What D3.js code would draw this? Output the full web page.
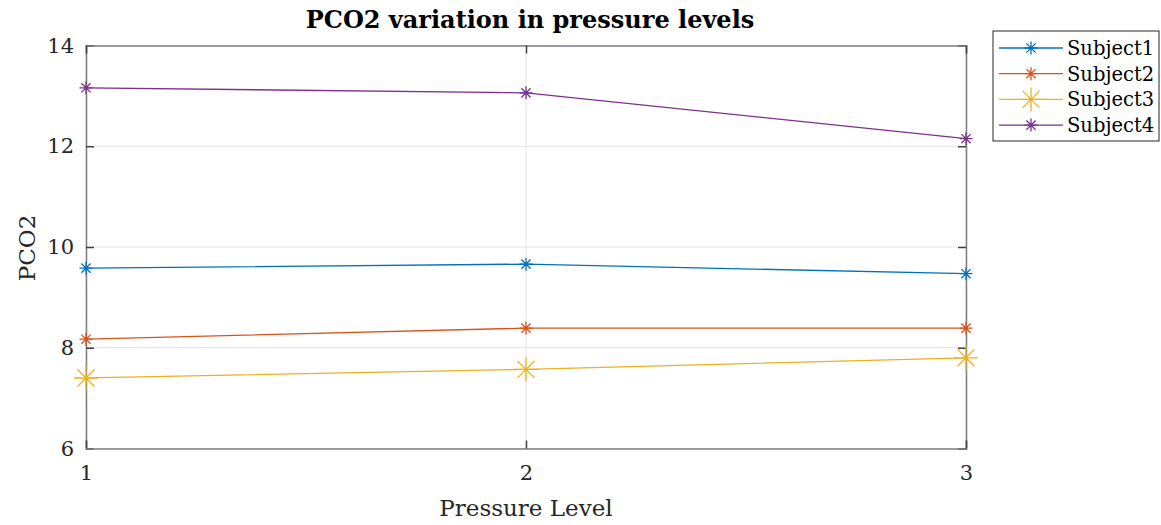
<!DOCTYPE html>
<html><head><meta charset="utf-8">
<script src="https://cdn.jsdelivr.net/npm/d3@7"></script>
<style>body{margin:0;background:#fff;} text{font-family:"DejaVu Serif",serif;}</style>
</head><body>
<svg id="chart" width="1161" height="525"></svg>
<script>
const levels = [1, 2, 3];
const subject1 = [9.58, 9.66, 9.47];
const subject2 = [8.17, 8.39, 8.39];
const subject3 = [7.40, 7.57, 7.80];
const subject4 = [13.16, 13.06, 12.15];
const seriesNames = ["Subject1", "Subject2", "Subject3", "Subject4"];
const seriesColors = ["#0072BD", "#D95319", "#EDB120", "#7E2F8E"];
const markerSizes = [6.5, 6.5, 12, 6.5];
const yTicks = [6, 8, 10, 12, 14];
const xTicks = [1, 2, 3];

const svg = d3.select("#chart");
const m = {l: 86, r: 966, t: 45.5, b: 448.5};
const x = d3.scaleLinear().domain([1, 3]).range([m.l, m.r]);
const y = d3.scaleLinear().domain([6, 14]).range([m.b, m.t]);

// grid
svg.append("g").selectAll("line").data(yTicks).join("line")
  .attr("x1", m.l).attr("x2", m.r).attr("y1", d => y(d)).attr("y2", d => y(d))
  .attr("stroke", "#e3e3e3").attr("stroke-width", 1);
svg.append("g").selectAll("line").data(xTicks).join("line")
  .attr("y1", m.t).attr("y2", m.b).attr("x1", d => x(d)).attr("x2", d => x(d))
  .attr("stroke", "#e3e3e3").attr("stroke-width", 1);

// axes
const axL = d3.axisLeft(y).tickValues(yTicks).tickSize(-8).tickPadding(12).tickFormat(d3.format("d"));
const axR = d3.axisRight(y).tickValues(yTicks).tickSize(-8).tickFormat("");
const axB = d3.axisBottom(x).tickValues(xTicks).tickSize(-8).tickPadding(17).tickFormat(d3.format("d"));
const axT = d3.axisTop(x).tickValues(xTicks).tickSize(-8).tickFormat("");
function style(g){
  g.select(".domain").attr("stroke", "#808080").attr("stroke-width", 1.5);
  g.selectAll(".tick line").attr("stroke", "#404040").attr("stroke-width", 1.5);
  g.selectAll(".tick text").attr("fill", "#262626").style("font-size", "21px").style("font-family", "DejaVu Serif");
}
svg.append("g").attr("transform", `translate(${m.l},0)`).call(axL).call(style);
svg.append("g").attr("transform", `translate(${m.r},0)`).call(axR).call(style);
svg.append("g").attr("transform", `translate(0,${m.b})`).call(axB).call(style);
svg.append("g").attr("transform", `translate(0,${m.t})`).call(axT).call(style);

const data = [subject1, subject2, subject3, subject4];
function star(g, cx, cy, s, color){
  const d = s * 0.7071;
  const p = `M${cx-s},${cy}L${cx+s},${cy}M${cx},${cy-s}L${cx},${cy+s}M${cx-d},${cy-d}L${cx+d},${cy+d}M${cx-d},${cy+d}L${cx+d},${cy-d}`;
  g.append("path").attr("d", p).attr("stroke", color).attr("stroke-width", 1.3).attr("fill", "none");
}
const line = d3.line().x((d, i) => x(levels[i])).y(d => y(d));
data.forEach((vals, k) => {
  const g = svg.append("g");
  g.append("path").datum(vals).attr("d", line).attr("fill", "none")
    .attr("stroke", seriesColors[k]).attr("stroke-width", 1.3);
  vals.forEach((v, i) => star(g, x(levels[i]), y(v), markerSizes[k], seriesColors[k]));
});

// title & labels
svg.append("text").attr("x", 530).attr("y", 28).attr("text-anchor", "middle")
  .style("font-size", "24px").style("font-weight", "bold").attr("fill", "#000")
  .text("PCO2 variation in pressure levels");
svg.append("text").attr("x", 526).attr("y", 516).attr("text-anchor", "middle")
  .style("font-size", "23px").attr("fill", "#262626").text("Pressure Level");
svg.append("text").attr("transform", "translate(35,248) rotate(-90)").attr("text-anchor", "middle")
  .style("font-size", "23px").attr("fill", "#262626").text("PCO2");

// legend
const lg = svg.append("g");
lg.append("rect").attr("x", 993).attr("y", 31).attr("width", 166).attr("height", 110)
  .attr("fill", "#fff").attr("stroke", "#262626").attr("stroke-width", 1);
seriesNames.forEach((n, k) => {
  const cy = 48 + k * 25.7;
  lg.append("line").attr("x1", 999).attr("x2", 1063).attr("y1", cy).attr("y2", cy)
    .attr("stroke", seriesColors[k]).attr("stroke-width", 1.3);
  star(lg, 1031, cy, markerSizes[k], seriesColors[k]);
  lg.append("text").attr("x", 1067).attr("y", cy + 7).style("font-size", "19.5px")
    .attr("fill", "#000").text(n);
});
</script>
</body></html>
